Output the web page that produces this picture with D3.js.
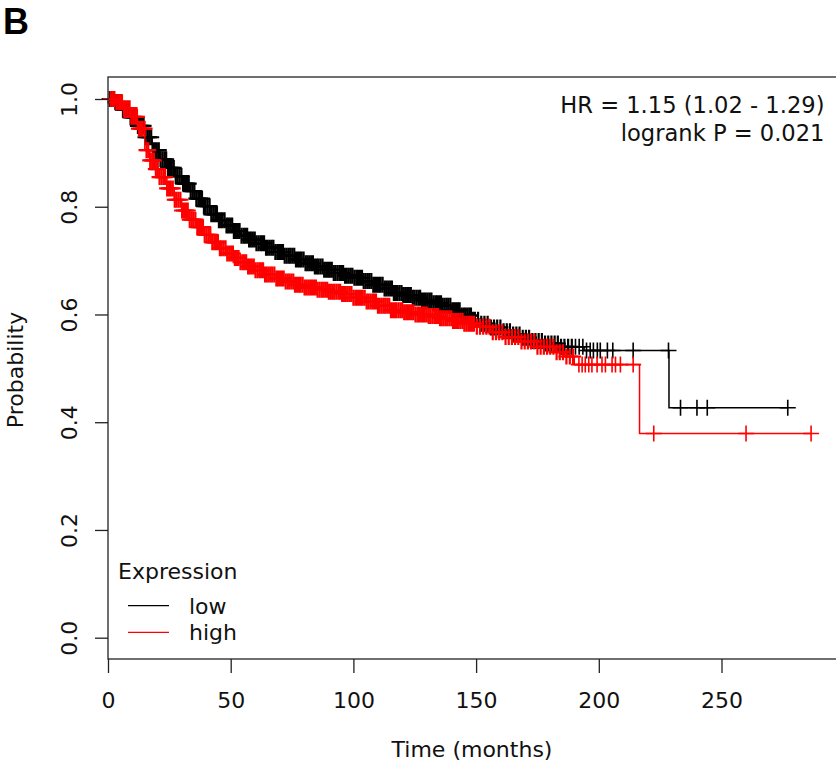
<!DOCTYPE html>
<html>
<head>
<meta charset="utf-8">
<script src="https://cdn.jsdelivr.net/npm/d3@7"></script>
<style>
  body { margin: 0; background: #fff; }
  svg { display: block; font-family: "DejaVu Sans", sans-serif; }
</style>
</head>
<body>
<script>
// survival steps: [time in months, probability]
const lowSteps = [
  [0, 1.000], [3, 0.994], [6, 0.980], [9, 0.966], [12, 0.950], [15, 0.929],
  [18, 0.905], [21, 0.888], [24, 0.872], [27, 0.857], [30, 0.843], [33, 0.829],
  [36, 0.815], [39, 0.801], [42, 0.786], [45, 0.775], [48, 0.765], [51, 0.755],
  [54, 0.746], [57, 0.739], [60, 0.732], [64, 0.724], [68, 0.716], [72, 0.709],
  [76, 0.702], [80, 0.695], [84, 0.689], [88, 0.683], [92, 0.677], [96, 0.672],
  [100, 0.668], [104, 0.662], [108, 0.655], [112, 0.648], [116, 0.640], [120, 0.636],
  [124, 0.631], [128, 0.626], [132, 0.621], [136, 0.616], [140, 0.608], [144, 0.598],
  [148, 0.590], [152, 0.583], [156, 0.576], [160, 0.569], [164, 0.563], [168, 0.557],
  [172, 0.551], [177, 0.546], [184, 0.540], [194, 0.533], [228.6, 0.427]
];
const lowEnd = 277;
const lowCensor = [0.7,1.5,2.3,3.0,3.8,4.6,5.3,6.1,6.9,7.6,8.4,9.2,9.9,10.7,11.5,12.2,13.0,13.8,14.5,15.3,
  16.1,16.8,17.6,18.4,19.1,19.9,20.7,21.4,22.2,23.0,23.7,24.5,25.3,26.0,26.8,27.6,28.3,29.1,29.9,30.6,
  31.4,32.2,32.9,33.7,34.5,35.2,36.0,36.8,37.5,38.3,39.1,39.8,40.6,41.4,42.1,42.9,43.7,44.4,45.2,46.0,
  46.7,47.5,48.3,49.0,49.8,50.6,51.3,52.1,52.9,53.6,54.4,55.2,55.9,56.7,57.5,58.2,59.0,59.8,60.5,61.3,
  62.1,62.8,63.6,64.4,65.1,65.9,66.7,67.4,68.2,69.0,69.7,70.5,71.3,72.0,72.8,73.6,74.3,75.1,75.9,76.6,
  77.4,78.2,78.9,79.7,80.5,81.2,82.0,82.8,83.5,84.3,85.1,85.8,86.6,87.4,88.1,88.9,89.7,90.4,91.2,92.0,
  92.7,93.5,94.3,95.0,95.8,96.6,97.3,98.1,98.9,99.6,100.4,101.2,101.9,102.7,103.5,104.2,105.0,105.8,106.5,107.3,
  108.1,108.8,109.6,110.4,111.1,111.9,112.7,113.4,114.2,115.0,115.7,116.5,117.3,118.0,118.8,119.6,120.3,121.1,121.9,122.6,
  123.4,124.2,124.9,125.7,126.5,127.2,128.0,128.8,129.5,130.3,131.1,131.8,132.6,133.4,134.1,134.9,135.7,136.4,137.2,138.0,
  138.7,139.5,140.3,141.0,141.8,142.6,143.3,144.1,144.9,145.6,146.4,147.2,147.9,148.7,149.5,150.8,152.1,153.4,154.7,156.0,
  157.3,158.6,159.9,161.2,162.5,163.8,165.1,166.4,167.7,169.0,170.3,171.6,172.9,174.2,175.5,176.8,178.1,179.4,180.7,182.0,
  183.3,184.6,186.0,187.5,189.0,190.5,192.0,193.5,195.0,196.5,197.8,199.4,200.6,203.5,205.7,214.0,228.4,233.3,240.0,244.2,277.0];

const highSteps = [
  [0, 1.000], [3, 0.994], [6, 0.983], [9, 0.967], [12, 0.945], [15, 0.905],
  [17, 0.886], [19, 0.870], [21, 0.855], [24, 0.834], [27, 0.813], [30, 0.793],
  [33, 0.776], [36, 0.762], [39, 0.748], [42, 0.734], [45, 0.723], [48, 0.713],
  [51, 0.705], [54, 0.697], [57, 0.689], [60, 0.682], [64, 0.674], [68, 0.667],
  [72, 0.661], [76, 0.655], [80, 0.650], [85, 0.646], [90, 0.642], [95, 0.638],
  [100, 0.631], [105, 0.624], [110, 0.616], [115, 0.608], [120, 0.604], [125, 0.600],
  [130, 0.597], [135, 0.593], [140, 0.588], [145, 0.583], [150, 0.577], [156, 0.567],
  [162, 0.558], [168, 0.550], [175, 0.540], [182, 0.530], [186, 0.522], [190, 0.507],
  [216.6, 0.379]
];
const highEnd = 286.5;
const highCensor = [1.1,1.9,2.6,3.4,4.2,4.9,5.7,6.5,7.2,8.0,8.8,9.5,10.3,11.1,11.8,12.6,13.4,14.1,14.9,15.7,
  16.4,17.2,18.0,18.7,19.5,20.3,21.0,21.8,22.6,23.3,24.1,24.9,25.6,26.4,27.2,27.9,28.7,29.5,30.2,31.0,
  31.8,32.5,33.3,34.1,34.8,35.6,36.4,37.1,37.9,38.7,39.4,40.2,41.0,41.7,42.5,43.3,44.0,44.8,45.6,46.3,
  47.1,47.9,48.6,49.4,50.2,50.9,51.7,52.5,53.2,54.0,54.8,55.5,56.3,57.1,57.8,58.6,59.4,60.1,60.9,61.7,
  62.4,63.2,64.0,64.7,65.5,66.3,67.0,67.8,68.6,69.3,70.1,70.9,71.6,72.4,73.2,73.9,74.7,75.5,76.2,77.0,
  77.8,78.5,79.3,80.1,80.8,81.6,82.4,83.1,83.9,84.7,85.4,86.2,87.0,87.7,88.5,89.3,90.0,90.8,91.6,92.3,
  93.1,93.9,94.6,95.4,96.2,96.9,97.7,98.5,99.2,100.0,100.8,101.5,102.3,103.1,103.8,104.6,105.4,106.1,106.9,107.7,
  108.4,109.2,110.0,110.7,111.5,112.3,113.0,113.8,114.6,115.3,116.1,116.9,117.6,118.4,119.2,119.9,120.7,121.5,122.2,123.0,
  123.8,124.5,125.3,126.1,126.8,127.6,128.4,129.1,129.9,130.7,131.4,132.2,133.0,133.7,134.5,135.3,136.0,136.8,137.6,138.3,
  139.1,139.9,140.6,141.4,142.2,142.9,143.7,144.5,145.2,146.0,146.8,147.5,148.3,149.1,150.3,151.6,152.9,154.2,155.5,156.8,
  158.1,159.4,160.7,162.0,163.3,164.6,165.9,167.2,168.5,169.8,171.1,172.4,173.7,175.0,176.3,177.6,178.9,180.2,181.5,182.8,
  184.1,185.4,186.8,188.2,189.5,191.9,193.2,194.5,195.9,197.2,199.3,201.3,202.7,205.4,206.8,208.8,214.0,222.4,260.0,286.5];

const xTicks = [0, 50, 100, 150, 200, 250];
const yTicks = [0, 0.2, 0.4, 0.6, 0.8, 1.0];
const hrLines = ["HR = 1.15 (1.02 - 1.29)", "logrank P = 0.021"];
const legendItems = [
  { label: "low", color: "#000000" },
  { label: "high", color: "#ff0000" }
];

const W = 836, H = 764;
const box = { left: 108, top: 77, right: 850, bottom: 659 };

const x = d3.scaleLinear().domain([0, 250]).range([108, 721.5]);
const y = d3.scaleLinear().domain([0, 1]).range([637.7, 99]);

const svg = d3.select("body").append("svg")
  .attr("width", W).attr("height", H);

// panel letter
svg.append("text")
  .attr("x", 3).attr("y", 34)
  .attr("font-size", 36).attr("font-weight", "bold")
  .attr("font-family", "Liberation Sans, Arial, sans-serif")
  .text("B");

// curves
function drawCurve(steps, end, censor, color) {
  const pts = steps.slice();
  pts.push([end, steps[steps.length - 1][1]]);
  svg.append("path")
    .datum(pts)
    .attr("fill", "none")
    .attr("stroke", color)
    .attr("stroke-width", 1.5)
    .attr("d", d3.line().x(d => x(d[0])).y(d => y(d[1])).curve(d3.curveStepAfter));

  const bis = d3.bisector(d => d[0]).right;
  const survAt = t => steps[Math.max(0, bis(steps, t) - 1)][1];
  const s = 8;
  svg.append("g")
    .attr("stroke", color)
    .attr("stroke-width", t => 1.6)
    .selectAll("path")
    .data(censor)
    .join("path")
    .attr("stroke-width", t => (t < 190 ? 2.2 : 1.6))
    .attr("d", t => {
      const cx = x(t), cy = y(survAt(t));
      return `M${cx - s},${cy}H${cx + s}M${cx},${cy - s}V${cy + s}`;
    });
}
drawCurve(lowSteps, lowEnd, lowCensor, "#000000");
drawCurve(highSteps, highEnd, highCensor, "#ff0000");

// box
svg.append("rect")
  .attr("x", box.left).attr("y", box.top)
  .attr("width", box.right - box.left).attr("height", box.bottom - box.top)
  .attr("fill", "none").attr("stroke", "#222").attr("stroke-width", 1.3);

// axes
const yAxis = svg.append("g")
  .attr("transform", `translate(${box.left},0)`)
  .call(d3.axisLeft(y).tickValues(yTicks).tickFormat(d3.format(".1f")).tickSize(13));
yAxis.select(".domain").remove();
yAxis.selectAll("line").attr("stroke", "#222").attr("stroke-width", 1.3);
yAxis.selectAll("text")
  .attr("x", null).attr("dy", null)
  .attr("transform", "translate(-31,0) rotate(-90)")
  .attr("text-anchor", "middle")
  .attr("font-size", 22).attr("font-family", "DejaVu Sans").attr("fill", "#111");

const xAxis = svg.append("g")
  .attr("transform", `translate(0,${box.bottom})`)
  .call(d3.axisBottom(x).tickValues(xTicks).tickSize(14));
xAxis.select(".domain").remove();
xAxis.selectAll("line").attr("stroke", "#222").attr("stroke-width", 1.3);
xAxis.selectAll("text")
  .attr("y", 49).attr("dy", null)
  .attr("font-size", 22).attr("font-family", "DejaVu Sans").attr("fill", "#111");

// axis titles
svg.append("text")
  .attr("x", 472).attr("y", 757)
  .attr("text-anchor", "middle").attr("font-size", 22).attr("fill", "#111")
  .text("Time (months)");
svg.append("text")
  .attr("transform", "translate(23,370) rotate(-90)")
  .attr("text-anchor", "middle").attr("font-size", 22).attr("fill", "#111")
  .text("Probability");

// HR annotation
svg.append("g").selectAll("text")
  .data(hrLines)
  .join("text")
  .attr("x", 824.5).attr("y", (d, i) => 113 + i * 28)
  .attr("text-anchor", "end").attr("font-size", 22.6).attr("fill", "#111")
  .text(d => d);

// legend
svg.append("text")
  .attr("x", 118).attr("y", 579)
  .attr("font-size", 22).attr("fill", "#111")
  .text("Expression");
const lg = svg.append("g").selectAll("g")
  .data(legendItems)
  .join("g")
  .attr("transform", (d, i) => `translate(0,${605.7 + i * 26.6})`);
lg.append("line")
  .attr("x1", 128).attr("x2", 169)
  .attr("stroke", d => d.color).attr("stroke-width", 1.2);
lg.append("text")
  .attr("x", 189).attr("y", 8)
  .attr("font-size", 22).attr("fill", "#111")
  .text(d => d.label);
</script>
</body>
</html>
